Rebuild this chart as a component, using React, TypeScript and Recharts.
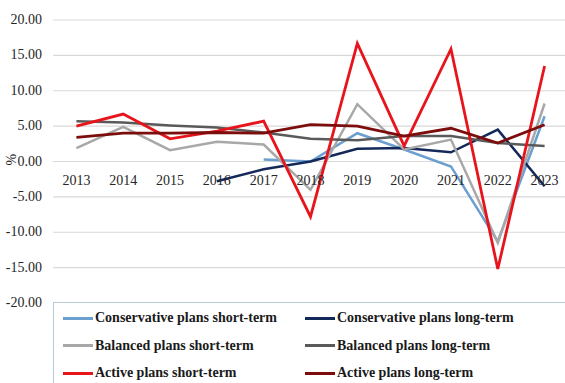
// Pension plan returns 2013–2023 — six line series, serif styling,
// category labels sitting on the zero line, boxed two-column legend.

import React from 'react'
import { LineChart, Line, XAxis, YAxis, CartesianGrid } from 'recharts'

const years = ['2013', '2014', '2015', '2016', '2017', '2018', '2019', '2020', '2021', '2022', '2023']

const conservativeShort = [null, null, null, null, 0.3, 0.0, 4.0, 1.7, -0.7, -11.3, 6.4]
const conservativeLong = [null, null, null, -2.8, -1.1, 0.0, 1.8, 1.9, 1.3, 4.5, -3.5]
const balancedShort = [1.9, 4.9, 1.6, 2.8, 2.4, -4.0, 8.1, 1.7, 3.1, -11.5, 8.2]
const balancedLong = [5.7, 5.5, 5.1, 4.8, 4.1, 3.2, 3.0, 3.6, 3.6, 2.6, 2.2]
const activeShort = [5.0, 6.7, 3.2, 4.3, 5.7, -7.8, 16.7, 2.2, 15.9, -15.2, 13.5]
const activeLong = [3.4, 4.0, 4.0, 4.1, 4.0, 5.2, 5.0, 3.6, 4.7, 2.6, 5.2]

const yTicks = [20, 15, 10, 5, 0, -5, -10, -15, -20]

const SERIES = [
  { key: 'cs', name: 'Conservative plans short-term', color: '#6a9fd0', width: 2.5, values: conservativeShort },
  { key: 'cl', name: 'Conservative plans long-term', color: '#14295a', width: 2.5, values: conservativeLong },
  { key: 'bs', name: 'Balanced plans short-term', color: '#a8a8a8', width: 2.5, values: balancedShort },
  { key: 'bl', name: 'Balanced plans long-term', color: '#5a5a5a', width: 2.5, values: balancedLong },
  { key: 'as', name: 'Active plans short-term', color: '#e8141b', width: 2.8, values: activeShort },
  { key: 'al', name: 'Active plans long-term', color: '#7d0c0c', width: 2.8, values: activeLong },
]

const data = years.map((year, i) => {
  const row: Record<string, string | number | null> = { year }
  SERIES.forEach((s) => {
    row[s.key] = s.values[i]
  })
  return row
})

const FONT = 'Liberation Serif, DejaVu Serif, serif'
const TOP = 20
const PLOT_H = 283
const X_H = 10
const CHART_H = 395
const HALF_STEP = 23.4

function YearTick(props: any) {
  const { x, payload } = props
  // labels sit just under the zero line (middle of a symmetric -20..20 domain)
  return (
    <text x={x} y={TOP + PLOT_H / 2 + 23} textAnchor="middle" style={{ fontFamily: FONT }} fontSize={14} fill="#262626">
      {payload.value}
    </text>
  )
}

function ValueTick(props: any) {
  const { x, y, payload } = props
  return (
    <text x={x} y={y} dx={3} dy={4} textAnchor="end" style={{ fontFamily: FONT }} fontSize={14} fill="#262626">
      {Number(payload.value).toFixed(2)}
    </text>
  )
}

function LegendBox() {
  return (
    <div
      style={{
        position: 'absolute',
        left: 53,
        top: 302,
        border: '1px solid #b6c9d6',
        background: '#fff',
        width: 530,
        height: 100,
        boxSizing: 'border-box',
        paddingTop: 6,
        fontFamily: FONT,
      }}
    >
      <div style={{ display: 'grid', gridTemplateColumns: '242px 260px', rowGap: 9.5, paddingLeft: 9 }}>
        {SERIES.map((s) => (
          <div key={s.key} style={{ display: 'flex', alignItems: 'center', height: 18 }}>
            <span style={{ display: 'inline-block', width: 30, height: 3, background: s.color }} />
            <span style={{ marginLeft: 2, fontSize: 14, fontWeight: 'bold', color: '#1a1a1a', whiteSpace: 'nowrap' }}>
              {s.name}
            </span>
          </div>
        ))}
      </div>
    </div>
  )
}

export default function App() {
  return (
    <div style={{ position: 'absolute', left: 0, top: 0, width: 565, height: 383, overflow: 'hidden', background: '#fff' }}>
      <LineChart
        width={575}
        height={CHART_H}
        data={data}
        margin={{ top: TOP, right: 7, left: 0, bottom: CHART_H - TOP - PLOT_H - X_H }}
        style={{ fontFamily: FONT }}
      >
        <CartesianGrid horizontal vertical={false} stroke="#d9d9d9" strokeWidth={1.2} />
        <XAxis
          dataKey="year"
          axisLine={false}
          tickLine={false}
          height={X_H}
          tick={<YearTick />}
          interval={0}
          padding={{ left: HALF_STEP, right: HALF_STEP }}
        />
        <YAxis
          type="number"
          domain={[-20, 20]}
          ticks={yTicks}
          width={53}
          axisLine={false}
          tickLine={false}
          tickMargin={8}
          tick={<ValueTick />}
          label={{ value: '%', angle: -90, position: 'insideLeft', offset: 11, dy: 4, style: { fontFamily: FONT, fontSize: 14, fill: '#262626' } }}
        />
        {SERIES.map((s) => (
          <Line
            key={s.key}
            type="linear"
            dataKey={s.key}
            name={s.name}
            stroke={s.color}
            strokeWidth={s.width}
            dot={false}
            activeDot={false}
            connectNulls={false}
            isAnimationActive={false}
          />
        ))}
      </LineChart>
      <LegendBox />
    </div>
  )
}
